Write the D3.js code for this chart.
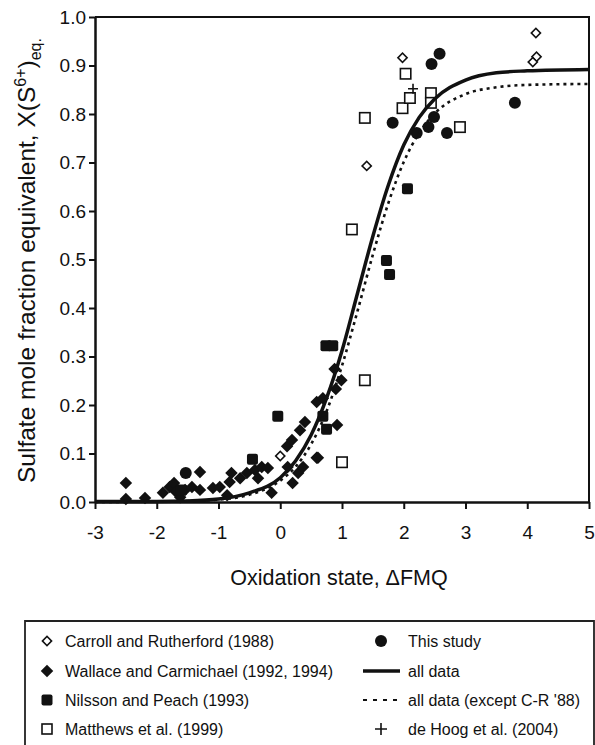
<!DOCTYPE html>
<html>
<head>
<meta charset="utf-8">
<script src="https://cdn.jsdelivr.net/npm/d3@7"></script>
<style>
  body { margin: 0; background: #fff; }
  svg { font-family: "Liberation Sans", Arial, sans-serif; }
</style>
</head>
<body>
<div id="chart"></div>
<script>
// data: [delta FMQ, X(S6+)]
const carroll = [[0.0, 0.095], [1.40, 0.693], [1.98, 0.916], [4.14, 0.967], [4.15, 0.918], [4.09, 0.907]];
const wallace = [
    [-2.50, 0.039], [-2.50, 0.006], [-2.19, 0.008], [-1.90, 0.019], [-1.79, 0.031], [-1.72, 0.039],
    [-1.69, 0.021], [-1.62, 0.010], [-1.54, 0.025], [-1.43, 0.031], [-1.30, 0.062], [-1.30, 0.025],
    [-1.09, 0.029], [-0.98, 0.031], [-0.86, 0.014], [-0.82, 0.041], [-0.79, 0.060], [-0.65, 0.049],
    [-0.54, 0.060], [-0.41, 0.066], [-0.36, 0.049], [-0.30, 0.072], [-0.20, 0.070], [-0.14, 0.019],
    [0.11, 0.115], [0.12, 0.072], [0.19, 0.128], [0.20, 0.039], [0.29, 0.060], [0.32, 0.148],
    [0.37, 0.072], [0.40, 0.165], [0.59, 0.206], [0.59, 0.091], [0.61, 0.091], [0.69, 0.214],
    [0.88, 0.274], [0.90, 0.233], [0.92, 0.159], [0.99, 0.251]
];
const nilsson = [[-1.60, 0.025], [-0.45, 0.088], [-0.04, 0.177], [0.74, 0.322], [0.85, 0.322],
    [0.69, 0.177], [0.75, 0.150], [1.72, 0.498], [1.77, 0.469], [2.06, 0.646]];
const matthews = [[1.00, 0.082], [1.37, 0.251], [1.16, 0.562], [1.37, 0.792], [1.98, 0.812],
    [2.03, 0.883], [2.10, 0.833], [2.44, 0.843], [2.44, 0.823], [2.91, 0.773]];
const thisStudy = [[-1.53, 0.060], [1.82, 0.782], [2.21, 0.761], [2.40, 0.773], [2.49, 0.794],
    [2.45, 0.903], [2.58, 0.924], [2.70, 0.761], [3.80, 0.823]];
const deHoog = [[2.15, 0.852]];

// fitted curves, sampled from the figure
const allData = [[-3, 0.001], [-2, 0.001], [-1.5, 0.002], [-1, 0.006], [-0.5, 0.019], [0, 0.050],
    [0.25, 0.085], [0.5, 0.138], [0.75, 0.214], [1.0, 0.312], [1.25, 0.430], [1.5, 0.548],
    [1.75, 0.653], [2.0, 0.736], [2.25, 0.793], [2.5, 0.831], [3.0, 0.870], [3.5, 0.885],
    [4.0, 0.889], [5.0, 0.892]];
const allDataExCR = [[-3, 0.000], [-2, 0.001], [-1.5, 0.002], [-1, 0.005], [-0.5, 0.015], [0, 0.044],
    [0.25, 0.073], [0.5, 0.119], [0.75, 0.187], [1.0, 0.281], [1.25, 0.393], [1.5, 0.510],
    [1.75, 0.616], [2.0, 0.701], [2.25, 0.761], [2.5, 0.801], [3.0, 0.841], [3.5, 0.855],
    [4.0, 0.860], [5.0, 0.862]];

const xTicks = [-3, -2, -1, 0, 1, 2, 3, 4, 5];
const yTicks = [0, 0.1, 0.2, 0.3, 0.4, 0.5, 0.6, 0.7, 0.8, 0.9, 1.0];

const legendLeft = ["Carroll and Rutherford (1988)", "Wallace and Carmichael (1992, 1994)",
    "Nilsson and Peach (1993)", "Matthews et al. (1999)"];
const legendRight = ["This study", "all data", "all data (except C-R '88)", "de Hoog et al. (2004)"];

const width = 595, height = 745;
const svg = d3.select("#chart").append("svg")
    .attr("width", width)
    .attr("height", height);

const x = d3.scaleLinear().domain([-3, 5]).range([95, 589]);
const y = d3.scaleLinear().domain([0, 1]).range([502, 17]);

// frame on top and right
svg.append("path")
    .attr("d", `M${x(-3)},${y(1)}H${x(5)}V${y(0)}`)
    .attr("fill", "none")
    .attr("stroke", "#111")
    .attr("stroke-width", 2);

// axes
const xAxis = svg.append("g")
    .attr("transform", `translate(0,${y(0)})`)
    .call(d3.axisBottom(x).tickValues(xTicks).tickSize(7).tickPadding(17).tickSizeOuter(0)
        .tickFormat(d3.format("d")));
const yAxis = svg.append("g")
    .attr("transform", `translate(${x(-3)},0)`)
    .call(d3.axisLeft(y).tickValues(yTicks).tickSize(6).tickPadding(3).tickSizeOuter(0)
        .tickFormat(d3.format(".1f")));

[xAxis, yAxis].forEach(a => {
    a.select(".domain").attr("stroke", "#111").attr("stroke-width", 2.5);
    a.selectAll(".tick line").attr("stroke", "#111").attr("stroke-width", 2);
    a.selectAll(".tick text").attr("fill", "#111").style("font-size", "19px");
});
xAxis.selectAll(".tick text").text(d => d < 0 ? "-" + Math.abs(d) : d);

// axis titles
svg.append("text")
    .attr("x", (x(-3) + x(5)) / 2 - 3)
    .attr("y", 585)
    .attr("text-anchor", "middle")
    .style("font-size", "21.5px")
    .attr("fill", "#111")
    .text("Oxidation state, \u0394FMQ");

const yTitle = svg.append("text")
    .attr("transform", "translate(35,483) rotate(-90)")
    .attr("text-anchor", "start")
    .style("font-size", "24.5px")
    .attr("fill", "#111");
yTitle.append("tspan").text("Sulfate mole fraction equivalent, X(S");
yTitle.append("tspan").attr("dy", -9).style("font-size", "16px").text("6+");
yTitle.append("tspan").attr("dy", 9).text(")");
yTitle.append("tspan").attr("dy", 6).style("font-size", "16px").text("eq.");

const plot = svg.append("g");

// markers
const diamond = d3.symbol(d3.symbolSquare, 78);
const diamondOpen = d3.symbol(d3.symbolSquare, 42);

plot.selectAll(".wallace")
    .data(wallace)
    .join("path")
    .attr("class", "wallace")
    .attr("d", diamond)
    .attr("transform", d => `translate(${x(d[0])},${y(d[1])}) rotate(45)`)
    .attr("fill", "#111");

plot.selectAll(".nilsson")
    .data(nilsson)
    .join("rect")
    .attr("class", "nilsson")
    .attr("x", d => x(d[0]) - 5.5)
    .attr("y", d => y(d[1]) - 5.5)
    .attr("width", 11)
    .attr("height", 11)
    .attr("rx", 2)
    .attr("fill", "#111");

plot.selectAll(".study")
    .data(thisStudy)
    .join("circle")
    .attr("class", "study")
    .attr("cx", d => x(d[0]))
    .attr("cy", d => y(d[1]))
    .attr("r", 6)
    .attr("fill", "#111");

plot.selectAll(".matthews")
    .data(matthews)
    .join("rect")
    .attr("class", "matthews")
    .attr("x", d => x(d[0]) - 5.2)
    .attr("y", d => y(d[1]) - 5.2)
    .attr("width", 10.4)
    .attr("height", 10.4)
    .attr("fill", "#fff")
    .attr("stroke", "#111")
    .attr("stroke-width", 1.6);

plot.selectAll(".carroll")
    .data(carroll)
    .join("path")
    .attr("class", "carroll")
    .attr("d", diamondOpen)
    .attr("transform", d => `translate(${x(d[0])},${y(d[1])}) rotate(45)`)
    .attr("fill", "#fff")
    .attr("stroke", "#111")
    .attr("stroke-width", 1.6);

plot.selectAll(".dehoog")
    .data(deHoog)
    .join("path")
    .attr("class", "dehoog")
    .attr("d", d => `M${x(d[0]) - 5},${y(d[1])}h10M${x(d[0])},${y(d[1]) - 5}v10`)
    .attr("stroke", "#111")
    .attr("stroke-width", 1.6);

// curves
const line = d3.line()
    .x(d => x(d[0]))
    .y(d => y(d[1]))
    .curve(d3.curveMonotoneX);

plot.append("path")
    .datum(allDataExCR)
    .attr("d", line)
    .attr("fill", "none")
    .attr("stroke", "#111")
    .attr("stroke-width", 2.6)
    .attr("stroke-dasharray", "3,4");

plot.append("path")
    .datum(allData)
    .attr("d", line)
    .attr("fill", "none")
    .attr("stroke", "#111")
    .attr("stroke-width", 3.5);

// legend
const legend = svg.append("g");
legend.append("path")
    .attr("d", "M25,746V621H594V746")
    .attr("fill", "none")
    .attr("stroke", "#222")
    .attr("stroke-width", 1.8);

const rowY = [641, 671, 700, 729];

legend.selectAll(".ltext")
    .data(legendLeft)
    .join("text")
    .attr("class", "ltext")
    .attr("x", 65)
    .attr("y", (d, i) => rowY[i])
    .attr("dy", "0.36em")
    .style("font-size", "16px")
    .attr("fill", "#111")
    .text(d => d);

legend.selectAll(".rtext")
    .data(legendRight)
    .join("text")
    .attr("class", "rtext")
    .attr("x", 408)
    .attr("y", (d, i) => rowY[i])
    .attr("dy", "0.36em")
    .style("font-size", "16px")
    .attr("fill", "#111")
    .text(d => d);

const sx = 47, rx = 381;
legend.append("path")
    .attr("d", diamondOpen)
    .attr("transform", `translate(${sx},${rowY[0]}) rotate(45)`)
    .attr("fill", "#fff").attr("stroke", "#111").attr("stroke-width", 1.6);
legend.append("path")
    .attr("d", diamond)
    .attr("transform", `translate(${sx},${rowY[1]}) rotate(45)`)
    .attr("fill", "#111");
legend.append("rect")
    .attr("x", sx - 5.5).attr("y", rowY[2] - 5.5)
    .attr("width", 11).attr("height", 11).attr("rx", 2)
    .attr("fill", "#111");
legend.append("rect")
    .attr("x", sx - 5).attr("y", rowY[3] - 5)
    .attr("width", 10).attr("height", 10)
    .attr("fill", "#fff").attr("stroke", "#111").attr("stroke-width", 1.6);

legend.append("circle")
    .attr("cx", rx).attr("cy", rowY[0]).attr("r", 6)
    .attr("fill", "#111");
legend.append("line")
    .attr("x1", 363).attr("x2", 400).attr("y1", rowY[1]).attr("y2", rowY[1])
    .attr("stroke", "#111").attr("stroke-width", 3.5);
legend.append("line")
    .attr("x1", 363).attr("x2", 400).attr("y1", rowY[2]).attr("y2", rowY[2])
    .attr("stroke", "#111").attr("stroke-width", 2.2)
    .attr("stroke-dasharray", "4,6");
legend.append("path")
    .attr("d", `M${rx - 6},${rowY[3]}h12M${rx},${rowY[3] - 6}v12`)
    .attr("stroke", "#111").attr("stroke-width", 1.6);
</script>
</body>
</html>
